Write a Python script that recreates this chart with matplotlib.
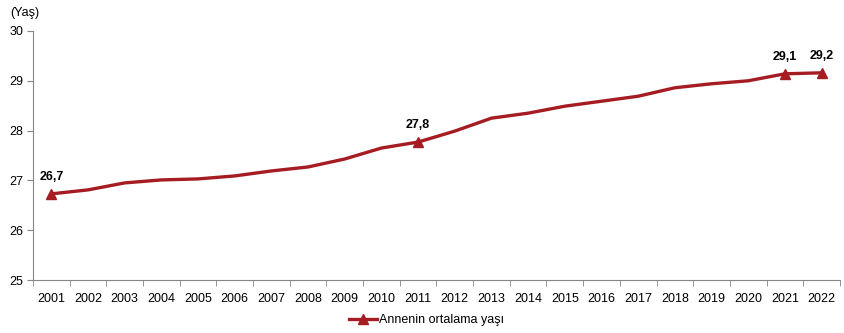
import numpy as np
import matplotlib.pyplot as plt

plt.rcParams['font.family'] = ['Liberation Sans', 'DejaVu Sans']

years = [str(y) for y in range(2001, 2023)]
mean_age = [26.73, 26.81, 26.95, 27.01, 27.03, 27.09, 27.19, 27.27, 27.43, 27.65, 27.77,
            27.99, 28.25, 28.35, 28.49, 28.59, 28.69, 28.86, 28.94, 29.00, 29.14, 29.16]
marked = ['2001', '2011', '2021', '2022']

red = '#A51D22'
axis_grey = '#868686'

fig = plt.figure(figsize=(8.45, 3.33), dpi=100)
ax = fig.add_axes([0.039, 0.159, 0.955, 0.748])

x = np.arange(len(years))
ax.plot(x, mean_age, color=red, lw=2.4, solid_capstyle='round', label='Annenin ortalama yaşı')

idx = [years.index(y) for y in marked]
ax.plot(x[idx], np.array(mean_age)[idx], ls='none', marker='^', ms=7, color=red)
for i in idx:
    ax.annotate(f"{mean_age[i]:.1f}".replace('.', ','), (x[i], mean_age[i]),
                xytext=(0, 8), textcoords='offset points', ha='center', va='bottom',
                fontsize=9, fontweight='bold')

ax.set_xlim(-0.5, len(years) - 0.5)
ax.set_ylim(25, 30)
ax.set_yticks(range(25, 31))
ax.set_xticks(x)
ax.set_xticklabels(years)
ax.set_xticks(np.arange(-0.5, len(years)), minor=True)
ax.tick_params(axis='x', which='major', length=0, pad=9, labelsize=9)
ax.tick_params(axis='x', which='minor', length=4, color=axis_grey)
ax.tick_params(axis='y', length=4, color=axis_grey, labelsize=9, pad=3)

for s in ['top', 'right']:
    ax.spines[s].set_visible(False)
for s in ['left', 'bottom']:
    ax.spines[s].set_color(axis_grey)
    ax.spines[s].set_linewidth(0.8)

fig.text(0.012, 0.962, '(Yaş)', fontsize=9, va='center')

legend_line, = ax.plot([], [], color=red, lw=2.4, marker='^', ms=7)
fig.legend([legend_line], ['Annenin ortalama yaşı'], loc='center', bbox_to_anchor=(0.505, 0.038),
           frameon=False, fontsize=9, handlelength=2.2, handletextpad=0.2)

fig.savefig('out.png', dpi=100)
